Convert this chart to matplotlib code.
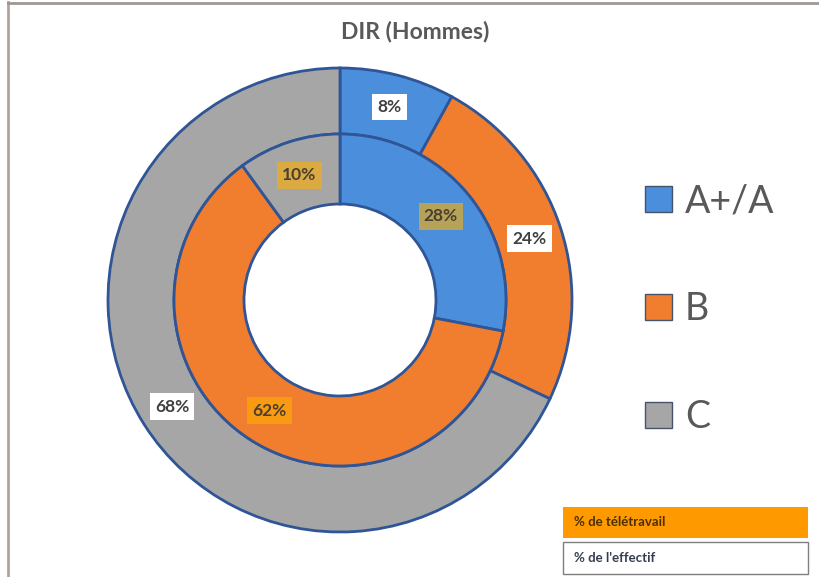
import matplotlib
matplotlib.use("Agg")
import matplotlib.pyplot as plt
from matplotlib.patches import Rectangle
from matplotlib.lines import Line2D

plt.rcParams['font.family'] = ['Lato', 'DejaVu Sans']

categories = ["A+/A", "B", "C"]
effectif = [8, 24, 68]        # outer ring: % de l'effectif
teletravail = [28, 62, 10]    # inner ring: % de télétravail
title = "DIR (Hommes)"
box_labels = ["% de télétravail", "% de l'effectif"]

colors = ["#4A8EDC", "#F07E2E", "#A6A6A6"]
edge = "#2F5597"
txt = "#404040"

W, H = 820, 577
fig = plt.figure(figsize=(W / 100, H / 100), dpi=100)
fig.patch.set_facecolor("white")

# frame lines
fig.add_artist(Line2D([8 / W, 8 / W], [0, 1 - 2 / H], color="#B0A49C", lw=2.0))
fig.add_artist(Line2D([8 / W, 1], [1 - 2.5 / H, 1 - 2.5 / H], color="#A09890", lw=2.0))

cx, cy = 340, H - 300
R = 240
ax = fig.add_axes([(cx - R) / W, (cy - R) / H, 2 * R / W, 2 * R / H])
ax.set_aspect("equal")
ax.axis("off")

r_out, r_mid, r_in = 232, 166, 96

w_out, t_out, a_out = ax.pie(
    effectif, radius=r_out, colors=colors, startangle=90, counterclock=False,
    autopct=lambda p: f"{p:.0f}%", pctdistance=(r_out + r_mid) / 2 / r_out,
    wedgeprops=dict(width=r_out - r_mid, edgecolor=edge, linewidth=2.0),
)
w_in, t_in, a_in = ax.pie(
    teletravail, radius=r_mid, colors=colors, startangle=90, counterclock=False,
    autopct=lambda p: f"{p:.0f}%", pctdistance=(r_mid + r_in) / 2 / r_mid,
    wedgeprops=dict(width=r_mid - r_in, edgecolor=edge, linewidth=2.0),
)
ax.set_xlim(-R, R)
ax.set_ylim(-R, R)

for a in a_out:
    a.set_fontsize(12.5)
    a.set_fontweight("bold")
    a.set_color(txt)
    a.set_bbox(dict(boxstyle="square,pad=0.3", facecolor="white", edgecolor="none"))
for a in a_in:
    a.set_fontsize(12.5)
    a.set_fontweight("bold")
    a.set_color("#4A4030")
    a.set_bbox(dict(boxstyle="square,pad=0.3", facecolor="#FFB000", alpha=0.6, edgecolor="none"))

fig.text(415 / W, 1 - 32 / H, title, ha="center", va="center",
         fontsize=16.5, fontweight="bold", color="#595959")

leg = fig.legend(
    handles=w_out, labels=categories, loc="center left",
    bbox_to_anchor=(611 / W, 1 - 309 / H), frameon=False,
    fontsize=27, handlelength=0.72, handleheight=0.72, handletextpad=0.35,
    labelspacing=1.92,
)
for t in leg.get_texts():
    t.set_color("#595959")
for h in leg.legend_handles:
    h.set_edgecolor("#44546A")
    h.set_linewidth(1.0)

# bottom boxes
fig.add_artist(Rectangle((563 / W, 1 - 538 / H), 245 / W, 31 / H,
                         facecolor="#FF9900", edgecolor="none", transform=fig.transFigure))
fig.add_artist(Rectangle((563 / W, 1 - 574 / H), 245 / W, 32 / H,
                         facecolor="white", edgecolor="#7F7F7F", linewidth=1.0,
                         transform=fig.transFigure))
fig.text(574 / W, 1 - 522 / H, box_labels[0], ha="left", va="center",
         fontsize=9.5, fontweight="bold", color="#4A3000")
fig.text(574 / W, 1 - 558 / H, box_labels[1], ha="left", va="center",
         fontsize=9.5, fontweight="bold", color="#333F50")

fig.savefig("out.png", dpi=100)
